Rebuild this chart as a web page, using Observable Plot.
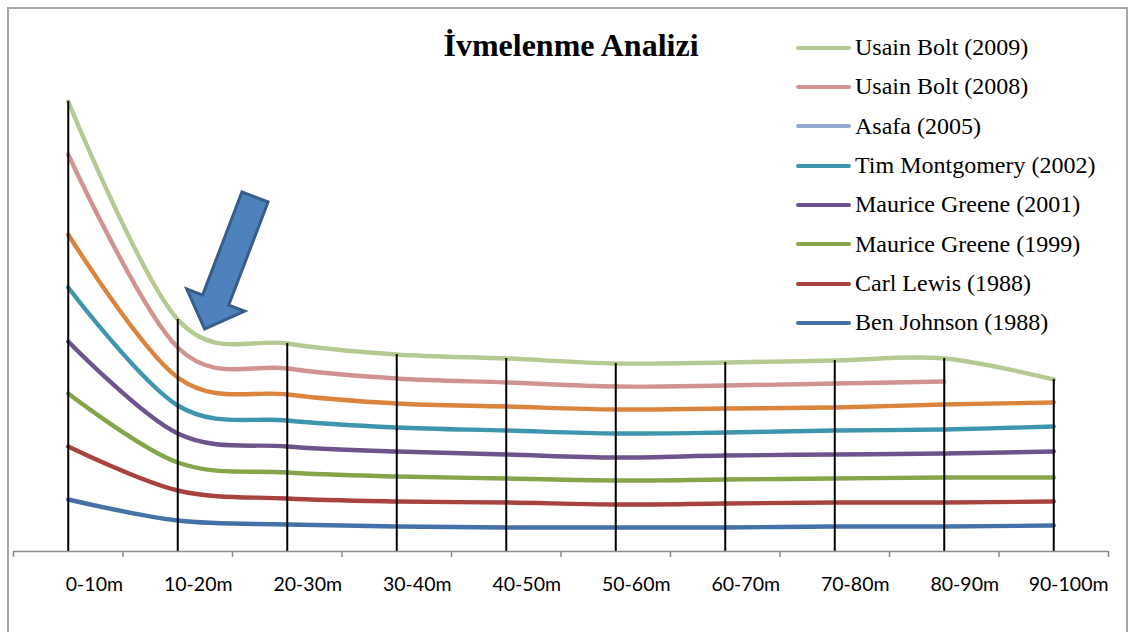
<!DOCTYPE html>
<html>
<head>
<meta charset="utf-8">
<script src="https://cdn.jsdelivr.net/npm/d3@7"></script>
<script src="https://cdn.jsdelivr.net/npm/@observablehq/plot@0.6"></script>
<style>
html, body { margin: 0; padding: 0; background: #fff; overflow: hidden; }
#wrap { position: relative; width: 1133px; height: 632px; overflow: hidden; }
#wrap svg.plot { position: absolute; left: 0; top: 0; }
#frame { position: absolute; left: 7px; top: 7px; width: 1121px; height: 660px; border: 2px solid #a6a6a6; box-sizing: border-box; z-index: 2; pointer-events: none; }
#title { position: absolute; left: 371px; width: 400px; top: 29px; text-align: center; font: bold 32px/32px "Liberation Serif", "Times New Roman", serif; color: #000; white-space: nowrap; }
.lg { position: absolute; left: 796px; height: 39px; display: flex; align-items: center; font: 24px/39px "Liberation Serif", "Times New Roman", serif; color: #000; white-space: nowrap; }
.lg .sw { width: 55px; height: 4px; border-radius: 2px; margin-right: 4px; }
</style>
</head>
<body>
<div id="wrap">
  <div id="frame"></div>
  <div id="title"></div>
</div>
<script>
// ---- data ----
const titleText = "İvmelenme Analizi";
const categories = ["0-10m", "10-20m", "20-30m", "30-40m", "40-50m", "50-60m", "60-70m", "70-80m", "80-90m", "90-100m"];

// legend (top to bottom as in the picture)
const legendNames = ["Usain Bolt (2009)", "Usain Bolt (2008)", "Asafa (2005)", "Tim Montgomery (2002)", "Maurice Greene (2001)", "Maurice Greene (1999)", "Carl Lewis (1988)", "Ben Johnson (1988)"];
const legendColors = ["#b5ca92", "#d19392", "#93a9cf", "#3d96ae", "#6e548d", "#86a44a", "#a8423f", "#4472a8"];

// series values (relative units; no y axis is shown)
const bolt2009 = [450, 232, 208, 197, 193, 188, 189, 191, 193, 172];
const bolt2008 = [397, 204, 183, 173, 169, 165, 166, 168, 170, null];
const series9  = [317, 174, 157, 148, 145, 142, 143, 144, 147, 149]; // orange line, not in legend
const montgomery2002 = [264, 146, 131, 124, 121, 118, 119, 121, 122, 125];
const greene2001 = [210, 118, 105, 100, 97, 94, 96, 97, 98, 100];
const greene1999 = [158, 89, 79, 75, 73, 71, 72, 73, 74, 74];
const lewis1988 = [105, 61, 53, 50, 49, 47, 48, 49, 49, 50];
const johnson1988 = [52, 31, 27, 25, 24, 24, 24, 25, 25, 26];

const lineNames = ["Ben Johnson (1988)", "Carl Lewis (1988)", "Maurice Greene (1999)", "Maurice Greene (2001)", "Tim Montgomery (2002)", "Seri 9", "Usain Bolt (2008)", "Usain Bolt (2009)"];
const lineValues = [johnson1988, lewis1988, greene1999, greene2001, montgomery2002, series9, bolt2008, bolt2009];
const lineColors = ["#4472a8", "#a8423f", "#86a44a", "#6e548d", "#3d96ae", "#db843d", "#d19392", "#b5ca92"];

// arrow annotation (data coordinates: category index, value)
const arrowTail = { i: 1.71, v: 354 };
const arrowTip = { i: 1.25, v: 222 };

// ---- build ----
const rows = [];
lineNames.forEach((name, s) => {
  lineValues[s].forEach((v, i) => { if (v != null) rows.push({ name, i, v }); });
});
const tops = categories.map((c, i) => ({ i, top: d3.max(lineValues, arr => arr[i]) }));
const tickVals = d3.range(categories.length + 1).map(k => k - 0.5);

function arrowMark(index, scales) {
  const x0 = scales.x(arrowTail.i), y0 = scales.y(arrowTail.v);
  const x1 = scales.x(arrowTip.i), y1 = scales.y(arrowTip.v);
  const dx = x1 - x0, dy = y1 - y0, L = Math.hypot(dx, dy);
  const ux = dx / L, uy = dy / L, px = -uy, py = ux;
  const sw = 14, hw = 31, hl = 31;
  const bx = x1 - ux * hl, by = y1 - uy * hl;
  const pts = [[x0 + px * sw, y0 + py * sw], [bx + px * sw, by + py * sw], [bx + px * hw, by + py * hw], [x1, y1],
               [bx - px * hw, by - py * hw], [bx - px * sw, by - py * sw], [x0 - px * sw, y0 - py * sw]];
  return d3.create("svg:path")
    .attr("d", "M" + pts.map(p => p.join(",")).join("L") + "Z")
    .attr("fill", "#4f81bd").attr("stroke", "#385d8a").attr("stroke-width", 3)
    .node();
}

const chart = Plot.plot({
  width: 1133,
  height: 632,
  marginLeft: 13,
  marginRight: 25,
  marginTop: 51,
  marginBottom: 81,
  style: { background: "transparent", overflow: "visible" },
  x: { type: "linear", domain: [-0.5, categories.length - 0.5], axis: null, label: null },
  y: { domain: [0, 500], axis: null, label: null },
  color: { domain: lineNames, range: lineColors },
  marks: [
    Plot.line(rows, { x: "i", y: "v", z: "name", stroke: "name", strokeWidth: 4.4, curve: "cardinal", strokeLinecap: "round", strokeLinejoin: "round" }),
    Plot.ruleX(tops, { x: "i", y1: 0, y2: "top", stroke: "#000", strokeWidth: 2 }),
    Plot.ruleY([0], { stroke: "#8c8c8c", strokeWidth: 1.5 }),
    Plot.axisX(tickVals, { tickSize: 6, tickFormat: () => "", label: null, stroke: "#8c8c8c", strokeWidth: 1.5 }),
    Plot.text(categories, { x: (d, k) => k + 0.5, y: () => 0, text: d => d, textAnchor: "end", dy: 33, fontSize: 19.5, fontFamily: "Lato, 'Liberation Sans', sans-serif", fill: "#000" }),
    arrowMark
  ]
});
chart.classList.add("plot");
const wrap = document.getElementById("wrap");
wrap.insertBefore(chart, wrap.firstChild);

document.getElementById("title").textContent = titleText;
legendNames.forEach((name, k) => {
  const row = document.createElement("div");
  row.className = "lg";
  row.style.top = (28 + k * 39.35) + "px";
  const sw = document.createElement("span");
  sw.className = "sw";
  sw.style.background = legendColors[k];
  row.appendChild(sw);
  row.appendChild(document.createTextNode(name));
  wrap.appendChild(row);
});
</script>
</body>
</html>
